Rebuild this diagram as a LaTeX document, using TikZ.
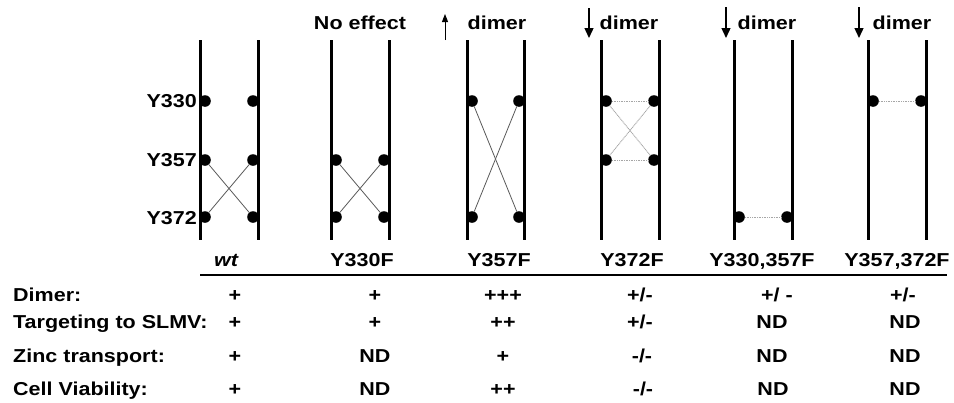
\documentclass[tikz,border=0pt]{standalone}
\usepackage{fontspec}
\setmainfont{Liberation Sans}[FakeStretch=1.15]
\usetikzlibrary{arrows.meta}
\begin{document}
\begin{tikzpicture}[x=1pt,y=-1pt,
  bar/.style={line width=3pt},
  dot/.style={circle,fill=black,inner sep=0pt,minimum size=11.6pt},
  link/.style={line width=0.8pt,draw=black!65},
  weak/.style={line width=0.9pt,draw=black!35,dash pattern=on 1pt off 0.7pt},
  txt/.style={font=\fontsize{18.7}{22}\selectfont\bfseries,inner sep=0pt,anchor=base},
  arr/.style={line width=1.4pt,-{Triangle[length=10pt,width=9pt]}},
  arrup/.style={line width=1pt,-{Triangle[length=8pt,width=6pt]}},
]
\useasboundingbox (0,0) rectangle (954,402);
% bars
\foreach \x in {200,258,331,389,467,524,601,659,734,792,868,926}
  \draw[bar] (\x,40) -- (\x,240);
% dots: wt
\node[dot] (aL1) at (205,101) {};
\node[dot] (aR1) at (253,101) {};
\node[dot] (aL2) at (205,160) {};
\node[dot] (aR2) at (253,160) {};
\node[dot] (aL3) at (205,217) {};
\node[dot] (aR3) at (253,217) {};
% Y330F
\node[dot] (bL2) at (336,160) {};
\node[dot] (bR2) at (384,160) {};
\node[dot] (bL3) at (336,217) {};
\node[dot] (bR3) at (384,217) {};
% Y357F
\node[dot] (cL1) at (472,101) {};
\node[dot] (cR1) at (519,101) {};
\node[dot] (cL3) at (472,217) {};
\node[dot] (cR3) at (519,217) {};
% Y372F
\node[dot] (dL1) at (606,101) {};
\node[dot] (dR1) at (654,101) {};
\node[dot] (dL2) at (606,160) {};
\node[dot] (dR2) at (654,160) {};
% Y330,357F
\node[dot] (eL3) at (739,217) {};
\node[dot] (eR3) at (787,217) {};
% Y357,372F
\node[dot] (fL1) at (873,101) {};
\node[dot] (fR1) at (921,101) {};
% links
\draw[link] (aL2) -- (aR3);
\draw[link] (aL3) -- (aR2);
\draw[link] (bL2) -- (bR3);
\draw[link] (bL3) -- (bR2);
\draw[link] (cL1) -- (cR3);
\draw[link] (cL3) -- (cR1);
\draw[weak] (dL1) -- (dR1);
\draw[weak] (dL2) -- (dR2);
\draw[weak] (dL1) -- (dR2);
\draw[weak] (dL2) -- (dR1);
\draw[weak] (eL3) -- (eR3);
\draw[weak] (fL1) -- (fR1);
% residue labels
\node[txt,anchor=base east] (r1) at (197,107.5) {Y330};
\node[txt,anchor=base east] (r2) at (197,166.5) {Y357};
\node[txt,anchor=base east] (r3) at (197,224) {Y372};
% top labels
\node[txt] (t2) at (360,29) {No effect};
\node[txt] (t3) at (497,29) {dimer};
\node[txt] (t4) at (629,29) {dimer};
\node[txt] (t5) at (767,29) {dimer};
\node[txt] (t6) at (902,29) {dimer};
\coordinate (u3a) at (445,40); \coordinate (u3b) at (445,14);
\coordinate (u4a) at (589,8);  \coordinate (u4b) at (589,38);
\coordinate (u5a) at (726,7);  \coordinate (u5b) at (726,38);
\coordinate (u6a) at (859,7);  \coordinate (u6b) at (859,38);
\draw[arrup] (u3a) -- (u3b);
\draw[arr] (u4a) -- (u4b);
\draw[arr] (u5a) -- (u5b);
\draw[arr] (u6a) -- (u6b);
% column labels
\node[txt] (c1) at (226,266) {\itshape wt};
\node[txt] (c2) at (362,266) {Y330F};
\node[txt] (c3) at (499,266) {Y357F};
\node[txt] (c4) at (632,266) {Y372F};
\node[txt] (c5) at (762,266) {Y330,357F};
\node[txt] (c6) at (897,266) {Y357,372F};
% rule
\coordinate (h1) at (200,275); \coordinate (h2) at (947,275);
\draw[line width=2.5pt] (h1) -- (h2);
% table row labels
\node[txt,anchor=base west] (k1) at (13,301.5) {Dimer:};
\node[txt,anchor=base west] (k2) at (13,328) {Targeting to SLMV:};
\node[txt,anchor=base west] (k3) at (13,362) {Zinc transport:};
\node[txt,anchor=base west] (k4) at (13,395) {Cell Viability:};
% values
\node[txt] (v11) at (235,301.5) {+};
\node[txt] (v12) at (375,301.5) {+};
\node[txt] (v13) at (503,301.5) {+++};
\node[txt] (v14) at (640,301.5) {+/-};
\node[txt] (v15) at (777,301.5) {+/ -};
\node[txt] (v16) at (903,301.5) {+/-};
\node[txt] (v21) at (235,328) {+};
\node[txt] (v22) at (375,328) {+};
\node[txt] (v23) at (503,328) {++};
\node[txt] (v24) at (640,328) {+/-};
\node[txt] (v25) at (772,328) {ND};
\node[txt] (v26) at (905,328) {ND};
\node[txt] (v31) at (235,362) {+};
\node[txt] (v32) at (375,362) {ND};
\node[txt] (v33) at (503,362) {+};
\node[txt] (v34) at (642,362) {-/-};
\node[txt] (v35) at (772,362) {ND};
\node[txt] (v36) at (905,362) {ND};
\node[txt] (v41) at (235,395) {+};
\node[txt] (v42) at (375,395) {ND};
\node[txt] (v43) at (503,395) {++};
\node[txt] (v44) at (643,395) {-/-};
\node[txt] (v45) at (773,395) {ND};
\node[txt] (v46) at (905,395) {ND};
\end{tikzpicture}
\end{document}
